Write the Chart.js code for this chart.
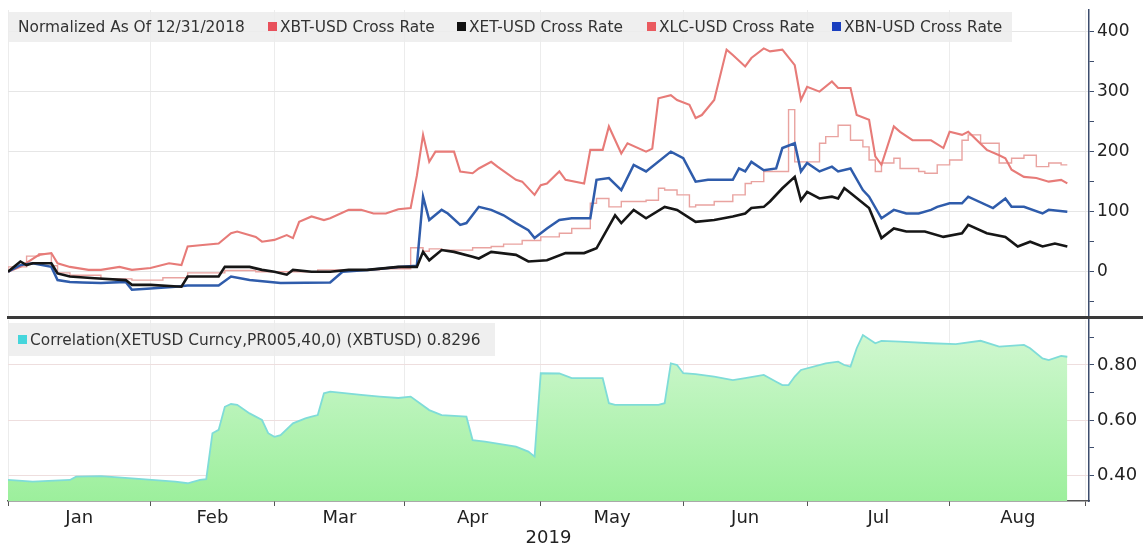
<!DOCTYPE html>
<html>
<head>
<meta charset="utf-8">
<script src="https://cdn.jsdelivr.net/npm/chart.js@4.4.1/dist/chart.umd.min.js"></script>
<style>
  body { margin: 0; background: #fff; }
  #wrap { position: relative; width: 1143px; height: 550px; overflow: hidden; background: #fff; font-family: "DejaVu Sans", sans-serif; }
  #topChart { position: absolute; left: 0; top: 0; }
  #botChart { position: absolute; left: 0; top: 318px; }
  .legend { position: absolute; background: rgba(236,236,236,0.85); color: #333; font-size: 15.4px; white-space: nowrap; }
  .legend span { position: absolute; top: 50%; transform: translateY(-50%); }
  .sq { display: inline-block; width: 9px; height: 9px; margin-right: 3px; vertical-align: 1px; }
  #sep { position: absolute; left: 7px; top: 316px; width: 1136px; height: 3px; background: #3a3a3a; }
</style>
</head>
<body>
<div id="wrap">
  <canvas id="topChart" width="1143" height="318"></canvas>
  <canvas id="botChart" width="1143" height="232"></canvas>
  <div id="sep"></div>
  <div class="legend" style="left:8px; top:12px; width:1004px; height:30px;">
    <span style="left:10px;">Normalized As Of 12/31/2018</span>
    <span style="left:260px;"><i class="sq" style="background:#e8505b"></i>XBT-USD Cross Rate</span>
    <span style="left:449px;"><i class="sq" style="background:#111"></i>XET-USD Cross Rate</span>
    <span style="left:639px;"><i class="sq" style="background:#ea5a5f"></i>XLC-USD Cross Rate</span>
    <span style="left:824px;"><i class="sq" style="background:#1a3fbf"></i>XBN-USD Cross Rate</span>
  </div>
  <div class="legend" style="left:8px; top:323px; width:487px; height:33px;">
    <span style="left:10px;"><i class="sq" style="background:#45d6dc"></i>Correlation(XETUSD Curncy,PR005,40,0) (XBTUSD) 0.8296</span>
  </div>
</div>
<script>
// =========================
// DATA (x = weekday index from the first data point)
// =========================

const monthNames = ["Jan", "Feb", "Mar", "Apr", "May", "Jun", "Jul", "Aug"];
const monthStarts = [0, 23, 43, 64, 86, 109, 129, 152, 174];
const xMax = 174.5;
const yearLabel = "2019";

const xbtDays = [0, 2, 5, 7, 8, 10, 13, 15, 18, 20, 23, 26, 28, 29, 31, 34, 36, 37, 40, 41, 43, 45, 46, 47, 49, 51, 52, 55, 57, 59, 61, 63, 65, 66, 67, 68, 69, 72, 73, 75, 76, 78, 79, 82, 83, 85, 86, 87, 89, 90, 93, 94, 96, 97, 99, 100, 103, 104, 105, 107, 108, 110, 111, 112, 114, 116, 117, 119, 120, 122, 123, 125, 127, 128, 129, 131, 133, 134, 136, 137, 139, 140, 141, 143, 144, 146, 149, 151, 152, 154, 155, 158, 160, 161, 162, 164, 166, 168, 170, 171];
const xbtValues = [0, 8, 28, 31, 14, 8, 3, 3, 8, 3, 6, 14, 11, 42, 44, 47, 64, 67, 58, 50, 53, 61, 56, 83, 92, 86, 89, 103, 103, 97, 97, 104, 106, 160, 228, 183, 200, 200, 167, 164, 172, 183, 175, 153, 150, 128, 144, 147, 167, 153, 147, 203, 203, 242, 197, 214, 200, 205, 289, 294, 286, 278, 256, 261, 286, 370, 361, 342, 356, 372, 367, 370, 344, 286, 308, 300, 317, 306, 306, 261, 253, 192, 178, 242, 233, 219, 219, 206, 233, 228, 233, 203, 194, 189, 170, 158, 156, 150, 153, 147];

const xetDays = [0, 2, 3, 4, 7, 8, 10, 14, 19, 20, 23, 28, 29, 34, 35, 39, 41, 43, 45, 46, 49, 52, 55, 58, 61, 63, 66, 67, 68, 70, 72, 75, 76, 78, 82, 84, 87, 90, 93, 95, 98, 99, 101, 103, 106, 108, 111, 114, 117, 119, 120, 122, 123, 125, 127, 128, 129, 131, 133, 134, 135, 136, 139, 141, 143, 145, 148, 151, 154, 155, 158, 161, 163, 165, 167, 169, 171];
const xetValues = [0, 17, 11, 14, 14, -3, -8, -11, -14, -22, -22, -25, -8, -8, 8, 8, 3, 0, -5, 3, 0, 0, 3, 3, 6, 8, 8, 33, 19, 36, 33, 25, 22, 33, 28, 17, 19, 31, 31, 39, 94, 81, 103, 89, 108, 103, 83, 86, 92, 97, 106, 108, 117, 139, 158, 119, 133, 122, 125, 122, 139, 131, 106, 56, 72, 67, 67, 58, 64, 78, 64, 58, 42, 50, 42, 47, 42];

const xlcDays = [0, 3, 5, 7, 8, 10, 15, 20, 25, 29, 35, 40, 50, 60, 65, 67, 68, 70, 75, 78, 80, 83, 86, 89, 91, 94, 95, 97, 99, 101, 103, 105, 106, 108, 110, 111, 114, 117, 119, 120, 122, 124, 126, 127, 128, 131, 132, 134, 136, 138, 139, 140, 141, 143, 144, 147, 148, 150, 152, 154, 155, 157, 160, 162, 164, 166, 168, 170, 171];
const xlcValues = [0, 8, 26, 30, 10, -2, -6, -12, -14, -10, -2, 2, 0, 3, 5, 40, 34, 38, 36, 40, 42, 46, 52, 58, 64, 72, 114, 122, 108, 117, 117, 119, 139, 136, 128, 108, 111, 117, 128, 147, 150, 167, 167, 270, 183, 183, 214, 225, 244, 219, 208, 186, 167, 181, 189, 172, 167, 164, 178, 186, 219, 228, 214, 181, 189, 194, 175, 181, 178];

const xbnDays = [0, 2, 4, 7, 8, 10, 12, 15, 19, 20, 23, 27, 29, 34, 36, 39, 44, 52, 54, 58, 63, 66, 67, 68, 70, 71, 73, 74, 76, 78, 80, 82, 84, 85, 87, 89, 91, 94, 95, 97, 99, 101, 103, 107, 109, 111, 113, 117, 118, 119, 120, 122, 124, 125, 127, 128, 129, 131, 133, 134, 136, 138, 139, 141, 143, 145, 147, 149, 150, 152, 154, 155, 159, 161, 162, 164, 167, 168, 171];
const xbnValues = [0, 11, 14, 8, -14, -17, -18, -19, -17, -30, -28, -25, -23, -23, -8, -14, -19, -18, 0, 3, 8, 10, 125, 86, 103, 97, 78, 81, 108, 103, 94, 81, 69, 56, 72, 86, 89, 89, 153, 156, 136, 178, 167, 200, 189, 150, 153, 153, 172, 167, 183, 169, 172, 206, 214, 167, 181, 167, 175, 167, 172, 136, 125, 89, 103, 97, 97, 103, 108, 114, 114, 125, 106, 122, 108, 108, 97, 103, 100];

const corrDays = [0, 4, 10, 11, 15, 20, 27, 29, 31, 32, 33, 34, 35, 36, 37, 39, 41, 42, 43, 44, 46, 48, 49, 50, 51, 52, 57, 60, 63, 65, 68, 70, 74, 75, 77, 82, 84, 85, 86, 89, 91, 96, 97, 98, 105, 106, 107, 108, 109, 111, 114, 117, 119, 122, 124, 125, 126, 127, 128, 132, 134, 135, 136, 137, 138, 140, 141, 144, 149, 153, 157, 160, 164, 165, 167, 168, 170, 171];
const corrValues = [0.382, 0.376, 0.382, 0.394, 0.396, 0.388, 0.376, 0.370, 0.382, 0.385, 0.552, 0.564, 0.648, 0.658, 0.655, 0.624, 0.600, 0.552, 0.539, 0.545, 0.588, 0.606, 0.612, 0.618, 0.697, 0.703, 0.691, 0.685, 0.680, 0.685, 0.636, 0.618, 0.612, 0.527, 0.521, 0.503, 0.485, 0.467, 0.770, 0.769, 0.752, 0.752, 0.661, 0.655, 0.655, 0.661, 0.806, 0.800, 0.770, 0.767, 0.758, 0.745, 0.752, 0.764, 0.739, 0.727, 0.727, 0.758, 0.782, 0.806, 0.812, 0.800, 0.794, 0.861, 0.909, 0.879, 0.888, 0.885, 0.879, 0.876, 0.888, 0.867, 0.873, 0.861, 0.824, 0.818, 0.833, 0.830];

const topTicks = [-50, 0, 50, 100, 150, 200, 250, 300, 350, 400];
const corrTicks = [0.4, 0.5, 0.6, 0.7, 0.8, 0.9];

// =========================
// HELPERS
// =========================

function pts(days, values) {
  return days.map((d, i) => ({ x: d, y: values[i] }));
}

const monthMids = monthNames.map((m, i) => (monthStarts[i] + monthStarts[i + 1]) / 2);
const axisFont = { family: "DejaVu Sans", size: 18 };
const axisColor = "#3d4d6d";

function lineSet(label, data, color, width, extra) {
  return Object.assign({
    label: label,
    data: data,
    borderColor: color,
    borderWidth: width,
    pointRadius: 0,
    tension: 0,
    fill: false,
  }, extra || {});
}

// keep the plot area where it is: no extra room for half tick labels
function fixY(s) {
  s.width = 54;
  s.paddingTop = 0;
  s.paddingBottom = 0;
}

// =========================
// TOP CHART
// =========================

new Chart(document.getElementById("topChart"), {
  type: "line",
  data: {
    datasets: [
      lineSet("XET-USD Cross Rate", pts(xetDays, xetValues), "#161616", 2.6, { order: 0 }),
      lineSet("XBN-USD Cross Rate", pts(xbnDays, xbnValues), "#2f5cab", 2.5, { order: 1 }),
      lineSet("XBT-USD Cross Rate", pts(xbtDays, xbtValues), "#e77b78", 2.1, { order: 2 }),
      lineSet("XLC-USD Cross Rate", pts(xlcDays, xlcValues), "#e9a3a0", 1.4, { order: 3, stepped: "after" }),
    ],
  },
  options: {
    responsive: false,
    animation: false,
    layout: { padding: { left: 8, top: 10, right: 0, bottom: 1 } },
    plugins: { legend: { display: false }, tooltip: { enabled: false } },
    scales: {
      x: {
        type: "linear",
        min: 0,
        max: xMax,
        afterBuildTicks: (s) => { s.ticks = monthStarts.map((v) => ({ value: v })); },
        afterFit: (s) => { s.height = 0; s.paddingLeft = 0; s.paddingRight = 0; },
        ticks: { display: false },
        grid: { color: "#ececec", drawTicks: false },
        border: { display: false },
      },
      y: {
        position: "right",
        min: -75.5,
        max: 436,
        afterBuildTicks: (s) => { s.ticks = topTicks.map((v) => ({ value: v })); },
        afterFit: fixY,
        ticks: {
          autoSkip: false,
          padding: 3,
          color: "#222",
          font: { family: "DejaVu Sans", size: 17 },
          callback: (v) => (v % 100 === 0 ? String(v) : ""),
        },
        grid: {
          color: (c) => (c.tick && c.tick.value % 100 === 0 ? "#e6e6e6" : "rgba(0,0,0,0)"),
          tickColor: axisColor,
          tickLength: 5,
        },
        border: { color: axisColor, width: 1.5 },
      },
    },
  },
});

// =========================
// CORRELATION CHART
// =========================

new Chart(document.getElementById("botChart"), {
  type: "line",
  data: {
    datasets: [
      lineSet("Correlation", pts(corrDays, corrValues), "#7fdcd8", 1.8, {
        fill: "start",
        backgroundColor: (c) => {
          const a = c.chart.chartArea;
          if (!a) return "#b4f2b4";
          const g = c.chart.ctx.createLinearGradient(0, a.top, 0, a.bottom);
          g.addColorStop(0, "#d4f8d4");
          g.addColorStop(1, "#9cef9c");
          return g;
        },
      }),
    ],
  },
  options: {
    responsive: false,
    animation: false,
    layout: { padding: { left: 8, top: 2, right: 0, bottom: 0 } },
    plugins: { legend: { display: false }, tooltip: { enabled: false } },
    scales: {
      x: {
        type: "linear",
        min: 0,
        max: xMax,
        afterBuildTicks: (s) => {
          s.ticks = monthStarts.map((v) => ({ value: v }))
            .concat(monthMids.map((v) => ({ value: v })))
            .sort((a, b) => a.value - b.value);
        },
        afterFit: (s) => { s.height = 49; s.paddingLeft = 0; s.paddingRight = 0; },
        ticks: {
          autoSkip: false,
          maxRotation: 0,
          padding: 2,
          color: "#222",
          font: axisFont,
          callback: (v) => {
            const i = monthMids.indexOf(v);
            return i >= 0 ? monthNames[i] : "";
          },
        },
        grid: {
          color: (c) => (c.tick && monthStarts.includes(c.tick.value) ? "#ececec" : "rgba(0,0,0,0)"),
          tickColor: (c) => (c.tick && monthStarts.includes(c.tick.value) ? "#555" : "rgba(0,0,0,0)"),
          tickLength: 5,
        },
        border: { color: "#555", width: 1.5 },
        title: { display: true, text: yearLabel, color: "#222", font: axisFont, padding: { top: 0, bottom: 1 } },
      },
      y: {
        position: "right",
        min: 0.3055,
        max: 0.9636,
        afterBuildTicks: (s) => { s.ticks = corrTicks.map((v) => ({ value: v })); },
        afterFit: fixY,
        ticks: {
          autoSkip: false,
          padding: 3,
          color: "#222",
          font: axisFont,
          callback: (v) => (Math.round(v * 10) % 2 === 0 ? v.toFixed(2) : ""),
        },
        grid: {
          color: (c) => (c.tick && Math.round(c.tick.value * 10) % 2 === 0 ? "#eedede" : "rgba(0,0,0,0)"),
          tickColor: axisColor,
          tickLength: 5,
        },
        border: { color: axisColor, width: 1.5 },
      },
    },
  },
});
</script>
</body>
</html>
